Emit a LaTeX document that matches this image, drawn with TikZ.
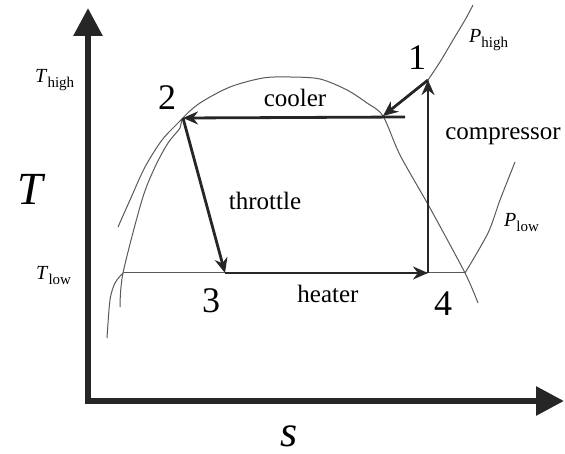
\documentclass[tikz,border=0pt]{standalone}
\usepackage{fontspec}
\setmainfont{Liberation Serif}
\usetikzlibrary{arrows.meta}

\begin{document}
\begin{tikzpicture}[x=1pt,y=-1pt,
  axis/.style={line width=6pt,draw=black!85,line join=miter},
  proc/.style={line width=2.8pt,draw=black!85,-{Stealth[length=15pt,width=13pt]}},
  curve/.style={line width=1pt,draw=black!65},
  num/.style={font=\fontsize{36}{36}\selectfont,inner sep=0pt,anchor=base},
  word/.style={font=\fontsize{25}{25}\selectfont,inner sep=0pt,anchor=base},
  sub/.style={font=\fontsize{20}{20}\selectfont,inner sep=0pt,anchor=base west}]

  \useasboundingbox (0,0) rectangle (565,454);

  % axes
  \coordinate (O) at (88,401);
  \coordinate (ytip) at (88,8);
  \coordinate (xtip) at (564,401);
  \draw[axis,{Triangle[length=28pt,width=28pt]}-{Triangle[length=28pt,width=28pt]}]
    (ytip) -- (O) -- (xtip);

  % cycle states
  \coordinate (p1) at (428,80);
  \coordinate (p2) at (183,118);
  \coordinate (p3) at (225,273);
  \coordinate (p4) at (428,273);
  \coordinate (pd) at (383,116);    % dew point on the high isobar
  \coordinate (cs) at (405,117);    % start of cooler arrow
  \coordinate (lq) at (123,273);    % liquid end of low isobar
  \coordinate (vp) at (465,273);    % vapour end of low isobar

  % saturation dome
  \draw[curve] plot[smooth] coordinates {(120,307) (lq) (142,200) (155,167)
    (168,143) (180,128) (p2) (200,103) (230,87) (263,78) (290,77) (320,79)
    (347,90) (367,103) (pd) (400,155) (430,208) (vp) (478,303)};

  % isobars
  \draw[curve] plot[smooth] coordinates {(118,227) (130,200) (145,167) (162,140) (178,123) (p2)};
  \draw[curve] plot[smooth] coordinates {(107,338) (110,300) (115,283) (lq)};
  \draw[curve] plot[smooth] coordinates {(p1) (440,62) (453,40) (465,20) (473,5)};
  \draw[curve] plot[smooth] coordinates {(vp) (488,233) (500,200) (515,162)};
  \draw[curve] (lq) -- (vp);

  % processes
  \draw[proc] (p1) -- (pd);
  \draw[proc] (cs) -- (p2);
  \draw[proc] (p2) -- (p3);
  \draw[proc] (p3) -- (p4);
  \draw[proc] (p4) -- (p1);

  % labels
  \node[num] (n1) at (417,70) {1};
  \node[num] (n2) at (167,110) {2};
  \node[num] (n3) at (211,313) {3};
  \node[num] (n4) at (443,316) {4};
  \node[word] (cooler) at (295,107) {cooler};
  \node[word] (throttle) at (265,210) {throttle};
  \node[word] (compressor) at (503,140) {compressor};
  \node[word] (heater) at (328,303) {heater};
  \node[font=\fontsize{46}{46}\selectfont\itshape,inner sep=0pt,anchor=base] (T) at (30,205) {T};
  \node[font=\fontsize{44}{44}\selectfont\itshape,inner sep=0pt,anchor=base] (s) at (289,446) {s};
  \node[sub] (Thigh) at (35,83) {\textit{T}\raisebox{-0.5ex}{\fontsize{15}{15}\selectfont high}};
  \node[sub] (Tlow) at (36,280) {\textit{T}\raisebox{-0.5ex}{\fontsize{15}{15}\selectfont low}};
  \node[sub] (Phigh) at (469,43) {\textit{P}\raisebox{-0.5ex}{\fontsize{15}{15}\selectfont high}};
  \node[sub] (Plow) at (504,227) {\textit{P}\raisebox{-0.5ex}{\fontsize{15}{15}\selectfont low}};
\end{tikzpicture}
\end{document}
